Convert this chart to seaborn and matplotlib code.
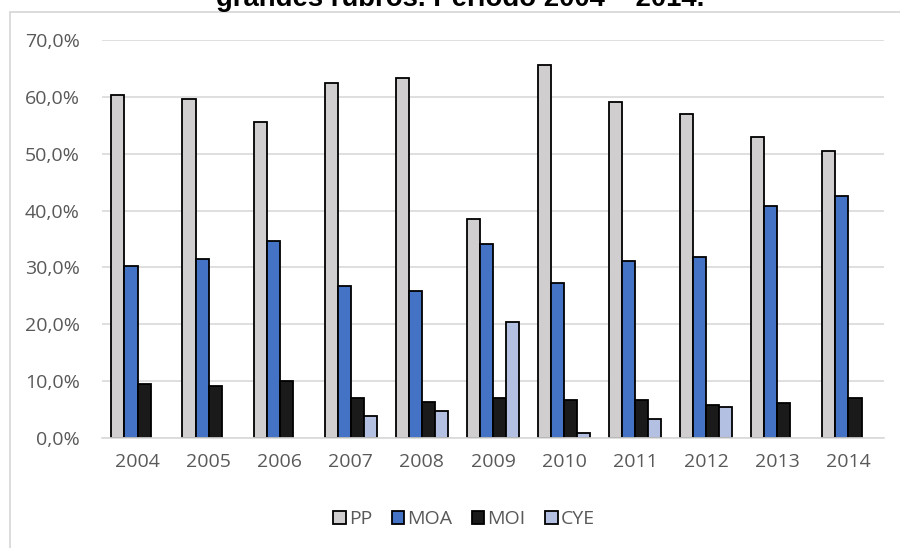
import matplotlib
matplotlib.use("Agg")
import matplotlib.pyplot as plt
from matplotlib.patches import Rectangle, Patch
from matplotlib.ticker import FuncFormatter
import seaborn as sns
import pandas as pd

years = ["2004", "2005", "2006", "2007", "2008", "2009", "2010", "2011", "2012", "2013", "2014"]
series = ["PP", "MOA", "MOI", "CYE"]
pp = [60.4, 59.6, 55.5, 62.4, 63.3, 38.6, 65.6, 59.1, 57.0, 52.9, 50.4]
moa = [30.3, 31.4, 34.6, 26.8, 25.8, 34.2, 27.2, 31.1, 31.8, 40.8, 42.6]
moi = [9.5, 9.1, 10.1, 7.0, 6.4, 7.0, 6.6, 6.6, 5.8, 6.2, 7.1]
cye = [0.0, 0.0, 0.0, 3.9, 4.7, 20.4, 0.8, 3.4, 5.4, 0.0, 0.0]
colors = ["#D0CECE", "#4472C4", "#1A1A1A", "#B4C0E2"]

df = pd.DataFrame({
    "year": years * 4,
    "serie": [s for s in series for _ in years],
    "value": pp + moa + moi + cye,
})

sns.set_theme(style="white")
plt.rcParams["font.family"] = ["Open Sans", "DejaVu Sans"]

fig = plt.figure(figsize=(9, 5.48), dpi=100)
ax = fig.add_axes([102 / 900, 0.2007, 782 / 900, 0.7263])

sns.barplot(data=df, x="year", y="value", hue="serie", hue_order=series,
            palette=colors, width=0.736, edgecolor="black", linewidth=1.3,
            saturation=1, legend=False, ax=ax)

# empty bars leave no outline on the baseline
for p in ax.patches:
    if p.get_height() == 0:
        p.set_linewidth(0)

ax.set_ylim(0, 70)
ax.set_yticks(range(0, 71, 10))
ax.yaxis.set_major_formatter(FuncFormatter(lambda v, _: f"{v:.1f}%".replace(".", ",")))
ax.grid(axis="y", color="#D9D9D9", linewidth=1.2)
ax.set_axisbelow(True)
for s in ["top", "right", "left"]:
    ax.spines[s].set_visible(False)
ax.spines["bottom"].set_color("#D9D9D9")
ax.spines["bottom"].set_linewidth(1.2)
ax.set_xlabel("")
ax.set_ylabel("")
ax.tick_params(axis="both", length=0, labelsize=14, colors="#595959")
ax.tick_params(axis="y", pad=16)
ax.tick_params(axis="x", pad=11)

handles = [Patch(facecolor=c, edgecolor="black", linewidth=1.3) for c in colors]
fig.legend(handles, series, loc="center", bbox_to_anchor=(464 / 900, 1 - 519 / 548), ncol=4,
           frameon=False, fontsize=14, handlelength=0.65, handleheight=0.65,
           handletextpad=0.15, columnspacing=1.0, labelcolor="#595959")

# outer chart frame
fig.patches.append(Rectangle((10 / 900, -0.05), 1.0, 1 - 12 / 548 + 0.05,
                             transform=fig.transFigure, fill=False,
                             edgecolor="#D9D9D9", linewidth=1.3))

fig.text(460 / 900, 1 - 6 / 548, "grandes rubros. Período 2004 – 2014.", ha="center",
         va="baseline", fontsize=19.8, fontweight="bold",
         family=["Liberation Sans", "DejaVu Sans"], color="black")

fig.savefig("out.png", dpi=100)
